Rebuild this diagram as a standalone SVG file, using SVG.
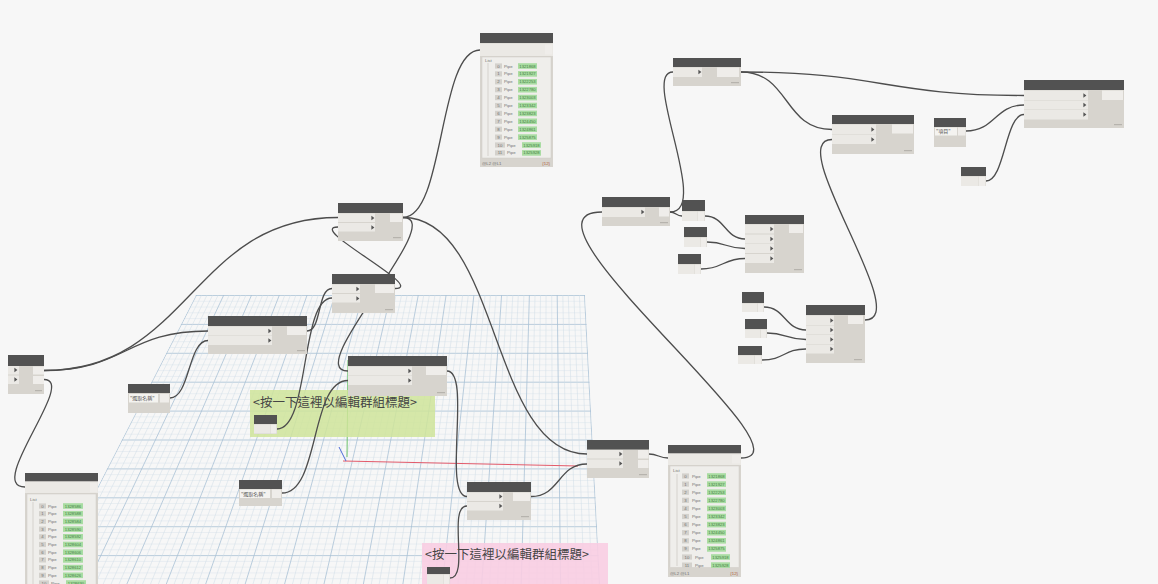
<svg xmlns="http://www.w3.org/2000/svg" width="1158" height="584" viewBox="0 0 1158 584">
<defs>
<style>
.hd{fill:#525252}
.bd{fill:#d7d4ce}
.ir{fill:#ebe9e5}
.ob{fill:#efedea}
.fd{fill:#f4f3f0}
.mk{fill:#b6b3ad}
.cn path{fill:none;stroke:#4d4d4d;stroke-width:1.3}
.t{font-family:"Liberation Sans",Arial,sans-serif;font-size:4.3px;fill:#707070}
.tv{font-family:"Liberation Sans",Arial,sans-serif;font-size:4.2px;fill:#3f7f3f;text-anchor:middle}
.lst{fill:#efeeeb;stroke:#cfccc6;stroke-width:0.5}
.gv{fill:#a9dca2}
.ix{fill:#d3d1cc}
.tl{stroke:#b8b5af;stroke-width:0.5}
.cj{font-family:"Noto Sans CJK TC","Noto Sans CJK SC",sans-serif}
.glab{font-size:12.5px;fill:#454545}
.sv{font-size:5px;fill:#555}
.ft{fill:#b05a3c;text-anchor:end}
</style>
<path id="ch" d="M-1.6,-2.3L1.4,0L-1.6,2.3Z" fill="#555"/>
<pattern id="hmin" patternUnits="userSpaceOnUse" x="0" y="295" width="20" height="5.78"><line x1="0" y1="0.25" x2="20" y2="0.25" stroke="#cfdce7" stroke-width="0.5"/></pattern>
<pattern id="hmaj" patternUnits="userSpaceOnUse" x="0" y="295" width="20" height="28.9"><line x1="0" y1="0.4" x2="20" y2="0.4" stroke="#a9c1d5" stroke-width="0.8"/></pattern>
<clipPath id="gc"><polygon points="196,295 585,295 600,584 48,584"/></clipPath>
</defs>
<rect width="1158" height="584" fill="#f7f7f7"/>
<g id="grid" clip-path="url(#gc)">
<rect x="40" y="290" width="570" height="300" fill="url(#hmin)"/>
<rect x="40" y="290" width="570" height="300" fill="url(#hmaj)"/>
<path fill="none" stroke="#cfdce7" stroke-width="0.5" d="M201.6,295L55.9,584M207.1,295L63.8,584M212.7,295L71.7,584M218.2,295L79.5,584M229.3,295L95.3,584M234.9,295L103.2,584M240.5,295L111.1,584M246,295L119,584M257.1,295L134.7,584M262.7,295L142.6,584M268.2,295L150.5,584M273.8,295L158.4,584M284.9,295L174.2,584M290.5,295L182.1,584M296,295L190,584M301.6,295L197.8,584M312.7,295L213.6,584M318.3,295L221.5,584M323.8,295L229.4,584M329.4,295L237.3,584M340.5,295L253,584M346,295L260.9,584M351.6,295L268.8,584M357.2,295L276.7,584M368.3,295L292.5,584M373.8,295L300.4,584M379.4,295L308.2,584M384.9,295L316.1,584M396.1,295L331.9,584M401.6,295L339.8,584M407.2,295L347.7,584M412.7,295L355.6,584M423.8,295L371.3,584M429.4,295L379.2,584M435,295L387.1,584M440.5,295L395,584M451.6,295L410.8,584M457.2,295L418.6,584M462.7,295L426.5,584M468.3,295L434.4,584M479.4,295L450.2,584M485,295L458.1,584M490.5,295L466,584M496.1,295L473.8,584M507.2,295L489.6,584M512.8,295L497.5,584M518.3,295L505.4,584M523.9,295L513.3,584M535,295L529,584M540.5,295L536.9,584M546.1,295L544.8,584M551.7,295L552.7,584M562.8,295L568.5,584M568.3,295L576.4,584M573.9,295L584.2,584M579.4,295L592.1,584"/>
<path fill="none" stroke="#a9c1d5" stroke-width="0.8" d="M196.5,295L48.5,584M223.8,295L87.4,584M251.6,295L126.9,584M279.4,295L166.3,584M307.1,295L205.7,584M334.9,295L245.2,584M362.7,295L284.6,584M390.5,295L324,584M418.3,295L363.4,584M446.1,295L402.9,584M473.9,295L442.3,584M501.6,295L481.7,584M529.4,295L521.2,584M557.2,295L560.6,584M584.5,295L599.5,584"/>
</g>
<g id="axes">
<line x1="343" y1="461" x2="578" y2="466" stroke="#e25a6a" stroke-width="1"/>
<line x1="347" y1="457" x2="348" y2="360" stroke="#6cc26c" stroke-width="1"/>
<line x1="339" y1="447" x2="346" y2="461" stroke="#4a6ad8" stroke-width="1"/>
</g>
<g id="group-green">
<rect x="250" y="390" width="185" height="47" fill="#cfe49a" fill-opacity="0.85"/>
<text class="cj glab" x="253" y="407">&lt;按一下這裡以編輯群組標題&gt;</text>
</g>
<g id="group-pink">
<rect x="422" y="543" width="186" height="41" fill="#f8cde2" fill-opacity="0.9"/>
<text class="cj glab" x="425" y="559">&lt;按一下這裡以編輯群組標題&gt;</text>
</g>
<g id="connectors" class="cn">
<path d="M44,370.5 C126,370.5 126,331 208,331"/>
<path d="M44,370.5 C190,370.5 192,217.5 338,217.5"/>
<path d="M44,379.5 C78,379.5 -15,487 25,487"/>
<path d="M170,398 C190,398 188,340.5 208,340.5"/>
<path d="M307,331 C322,331 317,288.5 332,288.5"/>
<path d="M277,429 C310,429 300,298 332,298"/>
<path d="M395,288.5 C428,288.5 305,227 338,227"/>
<path d="M403,217.5 C450,217.5 300,371 348,371"/>
<path d="M282,493 C320,493 310,380.5 348,380.5"/>
<path d="M403,217.5 C445,217.5 438,50 480,50"/>
<path d="M403,217.5 C500,217.5 490,454 587,454"/>
<path d="M447,371 C472,371 442,496.5 467,496.5"/>
<path d="M450,578 C470,578 447,506 467,506"/>
<path d="M531,496.5 C560,496.5 558,464 587,464"/>
<path d="M649,454 C658,454 659,458 668,458"/>
<path d="M741,458 C820,458 500,212 602,212"/>
<path d="M670,212 C676,212 676,216 682,216"/>
<path d="M670,212 C712,212 640,72 673,72"/>
<path d="M705,216 C725,216 725,239 745,239"/>
<path d="M707,242 C726,242 726,248.5 745,248.5"/>
<path d="M701,269 C723,269 723,258.5 745,258.5"/>
<path d="M741,72 C790,72 783,129.5 832,129.5"/>
<path d="M741,72 C880,72 885,95.5 1024,95.5"/>
<path d="M865,320 C915,320 782,139.5 832,139.5"/>
<path d="M966,131 C995,131 995,105 1024,105"/>
<path d="M986,181 C1005,181 1005,114.5 1024,114.5"/>
<path d="M764,307 C785,307 785,330 806,330"/>
<path d="M767,333 C786,333 786,339.5 806,339.5"/>
<path d="M762,360 C784,360 784,349 806,349"/>
</g>
<g id="node-a">
<rect class="bd" x="8" y="355" width="36" height="39"/>
<rect class="hd" x="8" y="355" width="36" height="11"/>
<rect class="ir" x="8" y="366" width="11" height="8.5"/>
<rect class="ir" x="8" y="375.5" width="11" height="8.5"/>
<use href="#ch" x="16" y="370"/><use href="#ch" x="16" y="379.5"/>
<rect class="ob" x="33" y="366.5" width="11" height="8"/>
<rect class="ob" x="33" y="376" width="11" height="8"/>
<rect class="mk" x="35" y="390" width="7" height="1.2"/>
</g>
<g id="node-b">
<rect class="bd" x="208" y="316" width="99" height="38"/>
<rect class="hd" x="208" y="316" width="99" height="10"/>
<rect class="ir" x="208" y="326.5" width="64" height="9"/>
<rect class="ir" x="208" y="336" width="64" height="9"/>
<use href="#ch" x="270" y="331"/><use href="#ch" x="270" y="340.5"/>
<rect class="ob" x="287" y="326.5" width="19" height="8.5"/>
<rect class="mk" x="297" y="350" width="8" height="1.2"/>
</g>
<g id="node-c">
<rect class="bd" x="128" y="384" width="42" height="29"/>
<rect class="hd" x="128" y="384" width="42" height="9"/>
<rect class="fd" x="129" y="394" width="29" height="8.5"/>
<text class="cj sv" x="130" y="400.3">"選取名稱"</text>
<rect class="ob" x="160" y="394" width="9" height="8.5"/>
</g>
<g id="node-d">
<rect class="bd" x="338" y="203" width="65" height="38"/>
<rect class="hd" x="338" y="203" width="65" height="10"/>
<rect class="ir" x="338" y="213.5" width="37" height="8.5"/>
<rect class="ir" x="338" y="223" width="37" height="8.5"/>
<use href="#ch" x="373" y="218"/><use href="#ch" x="373" y="227.5"/>
<rect class="ob" x="390" y="213.5" width="12" height="8.5"/>
<rect class="mk" x="393" y="237" width="8" height="1.2"/>
</g>
<g id="node-e">
<rect class="bd" x="332" y="274" width="63" height="39"/>
<rect class="hd" x="332" y="274" width="63" height="10"/>
<rect class="ir" x="332" y="284.5" width="28" height="8.5"/>
<rect class="ir" x="332" y="294" width="28" height="8.5"/>
<use href="#ch" x="358" y="289"/><use href="#ch" x="358" y="298.5"/>
<rect class="ob" x="375" y="284.5" width="19" height="8.5"/>
<rect class="mk" x="385" y="309" width="8" height="1.2"/>
</g>
<g id="node-f">
<rect class="bd" x="348" y="356" width="99" height="40"/>
<rect class="hd" x="348" y="356" width="99" height="10"/>
<rect class="ir" x="348" y="366.5" width="64" height="9"/>
<rect class="ir" x="348" y="376" width="64" height="9"/>
<use href="#ch" x="410" y="371"/><use href="#ch" x="410" y="380.5"/>
<rect class="ob" x="426" y="366.5" width="20" height="8.5"/>
<rect class="mk" x="437" y="392" width="8" height="1.2"/>
</g>
<g id="node-g">
<rect class="bd" x="254" y="415" width="23" height="19"/>
<rect class="hd" x="254" y="415" width="23" height="9"/>
<rect class="ir" x="254" y="424.5" width="16" height="9"/>
<rect class="ob" x="270.5" y="424.5" width="6" height="9"/>
</g>
<g id="node-h">
<rect class="bd" x="239" y="480" width="43" height="26"/>
<rect class="hd" x="239" y="480" width="43" height="9"/>
<rect class="fd" x="240" y="489.5" width="30" height="8.5"/>
<text class="cj sv" x="241" y="495.8">"選取名稱"</text>
<rect class="ob" x="272" y="489.5" width="9" height="8.5"/>
</g>
<g id="node-i">
<rect class="bd" x="467" y="482" width="64" height="38"/>
<rect class="hd" x="467" y="482" width="64" height="10"/>
<rect class="ir" x="467" y="492.5" width="36" height="8.5"/>
<rect class="ir" x="467" y="502" width="36" height="8.5"/>
<use href="#ch" x="501" y="496.5"/><use href="#ch" x="501" y="506"/>
<rect class="ob" x="513" y="492.5" width="17" height="8.5"/>
<rect class="mk" x="521" y="516" width="8" height="1.2"/>
</g>
<g id="node-j">
<rect class="bd" x="427" y="567" width="23" height="17"/>
<rect class="hd" x="427" y="567" width="23" height="7"/>
<rect class="ir" x="427" y="574.5" width="16" height="9.5"/>
<rect class="ob" x="443.5" y="574.5" width="6" height="9.5"/>
</g>
<g id="node-k">
<rect class="bd" x="587" y="440" width="62" height="38"/>
<rect class="hd" x="587" y="440" width="62" height="9.5"/>
<rect class="ir" x="587" y="450" width="36" height="8.5"/>
<rect class="ir" x="587" y="459.5" width="36" height="8.5"/>
<use href="#ch" x="621" y="454"/><use href="#ch" x="621" y="463.5"/>
<rect class="ob" x="638" y="450" width="10.5" height="8.5"/>
<rect class="ob" x="638" y="460" width="10.5" height="8"/>
<rect class="mk" x="639" y="474" width="8" height="1.2"/>
</g>
<g id="node-l">
<rect class="bd" x="602" y="197" width="68" height="29"/>
<rect class="hd" x="602" y="197" width="68" height="10"/>
<rect class="ir" x="602" y="207.5" width="43" height="9.5"/>
<use href="#ch" x="643" y="212"/>
<rect class="ob" x="659" y="207.5" width="10" height="9"/>
<rect class="mk" x="660" y="222" width="8" height="1.2"/>
</g>
<g id="node-m">
<rect class="bd" x="682" y="200" width="23" height="21"/>
<rect class="hd" x="682" y="200" width="23" height="11"/>
<rect class="ir" x="682" y="211.5" width="15" height="9.5"/>
<rect class="ob" x="697.5" y="211.5" width="7" height="9.5"/>
</g>
<g id="node-n">
<rect class="bd" x="684" y="227" width="23" height="20"/>
<rect class="hd" x="684" y="227" width="23" height="10"/>
<rect class="ir" x="684" y="237.5" width="16" height="9.5"/>
<rect class="ob" x="700.5" y="237.5" width="6" height="9.5"/>
</g>
<g id="node-o">
<rect class="bd" x="678" y="254" width="23" height="20"/>
<rect class="hd" x="678" y="254" width="23" height="10"/>
<rect class="ir" x="678" y="264.5" width="16" height="9.5"/>
<rect class="ob" x="694.5" y="264.5" width="6" height="9.5"/>
</g>
<g id="node-p">
<rect class="bd" x="745" y="215" width="59" height="58"/>
<rect class="hd" x="745" y="215" width="59" height="9"/>
<rect class="ir" x="745" y="224.5" width="29" height="9"/>
<rect class="ir" x="745" y="234.5" width="29" height="9"/>
<rect class="ir" x="745" y="244" width="29" height="9"/>
<rect class="ir" x="745" y="254" width="29" height="9"/>
<use href="#ch" x="772" y="229"/><use href="#ch" x="772" y="239"/><use href="#ch" x="772" y="248.5"/><use href="#ch" x="772" y="258.5"/>
<rect class="ob" x="789" y="224.5" width="14" height="8.5"/>
<rect class="mk" x="794" y="269" width="8" height="1.2"/>
</g>
<g id="node-q">
<rect class="bd" x="673" y="58" width="68" height="28"/>
<rect class="hd" x="673" y="58" width="68" height="9"/>
<rect class="ir" x="673" y="67.5" width="29" height="9.5"/>
<use href="#ch" x="700" y="72"/>
<rect class="ob" x="717" y="67.5" width="22" height="9.5"/>
<rect class="mk" x="731" y="82" width="8" height="1.2"/>
</g>
<g id="node-r">
<rect class="bd" x="832" y="115" width="82" height="39"/>
<rect class="hd" x="832" y="115" width="82" height="9"/>
<rect class="ir" x="832" y="124.5" width="44" height="9.5"/>
<rect class="ir" x="832" y="134.5" width="44" height="9.5"/>
<use href="#ch" x="873" y="129.5"/><use href="#ch" x="873" y="139.5"/>
<rect class="ob" x="892" y="124.5" width="21" height="9"/>
<rect class="mk" x="904" y="150" width="8" height="1.2"/>
</g>
<g id="node-s">
<rect class="bd" x="1024" y="80" width="100" height="48"/>
<rect class="hd" x="1024" y="80" width="100" height="10"/>
<rect class="ir" x="1024" y="90.5" width="64" height="9.5"/>
<rect class="ir" x="1024" y="100.5" width="64" height="9"/>
<rect class="ir" x="1024" y="110" width="64" height="9.5"/>
<use href="#ch" x="1085" y="95.5"/><use href="#ch" x="1085" y="105"/><use href="#ch" x="1085" y="114.5"/>
<rect class="ob" x="1102" y="90.5" width="21" height="9.5"/>
<rect class="mk" x="1114" y="124" width="8" height="1.2"/>
</g>
<g id="node-t">
<rect class="bd" x="934" y="118" width="32" height="29"/>
<rect class="hd" x="934" y="118" width="32" height="9"/>
<rect class="fd" x="935" y="127.5" width="22" height="8"/>
<text class="cj sv" x="936" y="133.3">"項目"</text>
<rect class="ob" x="958" y="127.5" width="7.5" height="8"/>
</g>
<g id="node-u">
<rect class="bd" x="961" y="167" width="25" height="19"/>
<rect class="hd" x="961" y="167" width="25" height="9"/>
<rect class="ir" x="961" y="176.5" width="17" height="9.5"/>
<rect class="ob" x="978.5" y="176.5" width="7" height="9.5"/>
</g>
<g id="node-v">
<rect class="bd" x="806" y="305" width="59" height="58"/>
<rect class="hd" x="806" y="305" width="59" height="10"/>
<rect class="ir" x="806" y="315.5" width="28" height="9.5"/>
<rect class="ir" x="806" y="325.5" width="28" height="9"/>
<rect class="ir" x="806" y="335" width="28" height="9"/>
<rect class="ir" x="806" y="344.5" width="28" height="9"/>
<use href="#ch" x="832" y="320.5"/><use href="#ch" x="832" y="330"/><use href="#ch" x="832" y="339.5"/><use href="#ch" x="832" y="349"/>
<rect class="ob" x="848" y="315.5" width="15" height="8.5"/>
<rect class="mk" x="854" y="359" width="8" height="1.2"/>
</g>
<g id="node-w">
<rect class="bd" x="742" y="292" width="22" height="20"/>
<rect class="hd" x="742" y="292" width="22" height="11"/>
<rect class="ir" x="742" y="303.5" width="15.5" height="8.5"/>
<rect class="ob" x="758" y="303.5" width="5.5" height="8.5"/>
</g>
<g id="node-x">
<rect class="bd" x="745" y="319" width="22" height="19"/>
<rect class="hd" x="745" y="319" width="22" height="10"/>
<rect class="ir" x="745" y="329.5" width="15.5" height="8.5"/>
<rect class="ob" x="761" y="329.5" width="5.5" height="8.5"/>
</g>
<g id="node-y">
<rect class="bd" x="738" y="346" width="24" height="18"/>
<rect class="hd" x="738" y="346" width="24" height="9"/>
<rect class="ir" x="738" y="355.5" width="16.5" height="8.5"/>
<rect class="ob" x="755" y="355.5" width="6.5" height="8.5"/>
</g>
<g id="watch-top">
<rect class="bd" x="480" y="33" width="73" height="134"/>
<rect class="hd" x="480" y="33" width="73" height="10"/>
<rect class="ir" x="480" y="43.5" width="73" height="12.5"/>
<rect class="ob" x="545" y="44.5" width="7" height="10"/>
<rect class="lst" x="482" y="57" width="69" height="101"/>
<text class="t" x="485" y="61.5">List</text>
<line class="tl" x1="488" y1="63" x2="488" y2="156"/>
<rect class="ix" x="495" y="63.4" width="7" height="5.2"/><text class="t" x="498.5" y="67.5" text-anchor="middle">0</text><text class="t" x="504" y="67.5">Pipe</text><rect class="gv" x="518" y="63.2" width="19" height="5.6"/><text class="tv" x="527.5" y="67.5">1321868</text>
<rect class="ix" x="495" y="71.3" width="7" height="5.2"/><text class="t" x="498.5" y="75.4" text-anchor="middle">1</text><text class="t" x="504" y="75.4">Pipe</text><rect class="gv" x="518" y="71.1" width="19" height="5.6"/><text class="tv" x="527.5" y="75.4">1321927</text>
<rect class="ix" x="495" y="79.2" width="7" height="5.2"/><text class="t" x="498.5" y="83.3" text-anchor="middle">2</text><text class="t" x="504" y="83.3">Pipe</text><rect class="gv" x="518" y="79" width="19" height="5.6"/><text class="tv" x="527.5" y="83.3">1322253</text>
<rect class="ix" x="495" y="87.1" width="7" height="5.2"/><text class="t" x="498.5" y="91.2" text-anchor="middle">3</text><text class="t" x="504" y="91.2">Pipe</text><rect class="gv" x="518" y="86.9" width="19" height="5.6"/><text class="tv" x="527.5" y="91.2">1322780</text>
<rect class="ix" x="495" y="95" width="7" height="5.2"/><text class="t" x="498.5" y="99.1" text-anchor="middle">4</text><text class="t" x="504" y="99.1">Pipe</text><rect class="gv" x="518" y="94.8" width="19" height="5.6"/><text class="tv" x="527.5" y="99.1">1323003</text>
<rect class="ix" x="495" y="102.9" width="7" height="5.2"/><text class="t" x="498.5" y="107" text-anchor="middle">5</text><text class="t" x="504" y="107">Pipe</text><rect class="gv" x="518" y="102.7" width="19" height="5.6"/><text class="tv" x="527.5" y="107">1323342</text>
<rect class="ix" x="495" y="110.8" width="7" height="5.2"/><text class="t" x="498.5" y="114.9" text-anchor="middle">6</text><text class="t" x="504" y="114.9">Pipe</text><rect class="gv" x="518" y="110.6" width="19" height="5.6"/><text class="tv" x="527.5" y="114.9">1323823</text>
<rect class="ix" x="495" y="118.7" width="7" height="5.2"/><text class="t" x="498.5" y="122.8" text-anchor="middle">7</text><text class="t" x="504" y="122.8">Pipe</text><rect class="gv" x="518" y="118.5" width="19" height="5.6"/><text class="tv" x="527.5" y="122.8">1324450</text>
<rect class="ix" x="495" y="126.6" width="7" height="5.2"/><text class="t" x="498.5" y="130.7" text-anchor="middle">8</text><text class="t" x="504" y="130.7">Pipe</text><rect class="gv" x="518" y="126.4" width="19" height="5.6"/><text class="tv" x="527.5" y="130.7">1324861</text>
<rect class="ix" x="495" y="134.5" width="7" height="5.2"/><text class="t" x="498.5" y="138.6" text-anchor="middle">9</text><text class="t" x="504" y="138.6">Pipe</text><rect class="gv" x="518" y="134.3" width="19" height="5.6"/><text class="tv" x="527.5" y="138.6">1325875</text>
<rect class="ix" x="495" y="142.4" width="10" height="5.2"/><text class="t" x="500" y="146.5" text-anchor="middle">10</text><text class="t" x="507" y="146.5">Pipe</text><rect class="gv" x="522" y="142.2" width="19" height="5.6"/><text class="tv" x="531.5" y="146.5">1325918</text>
<rect class="ix" x="495" y="150.3" width="10" height="5.2"/><text class="t" x="500" y="154.4" text-anchor="middle">11</text><text class="t" x="507" y="154.4">Pipe</text><rect class="gv" x="522" y="150.1" width="19" height="5.6"/><text class="tv" x="531.5" y="154.4">1325928</text>
<text class="t" x="482" y="164.5">@L2 @L1</text>
<text class="t ft" x="550" y="164.5">{12}</text>
</g>
<g id="watch-bottom">
<rect class="bd" x="668" y="445" width="73" height="132"/>
<rect class="hd" x="668" y="445" width="73" height="8.5"/>
<rect class="ir" x="668" y="453.5" width="73" height="11.5"/>
<rect class="ob" x="732" y="455" width="8" height="8.5"/>
<rect class="lst" x="670" y="466" width="69" height="101.5"/>
<text class="t" x="673" y="472">List</text>
<line class="tl" x1="677" y1="474" x2="677" y2="566"/>
<rect class="ix" x="682" y="473.4" width="7" height="5.2"/><text class="t" x="685.5" y="477.5" text-anchor="middle">0</text><text class="t" x="692" y="477.5">Pipe</text><rect class="gv" x="707" y="473.2" width="19" height="5.6"/><text class="tv" x="716.5" y="477.5">1321868</text>
<rect class="ix" x="682" y="481.5" width="7" height="5.2"/><text class="t" x="685.5" y="485.6" text-anchor="middle">1</text><text class="t" x="692" y="485.6">Pipe</text><rect class="gv" x="707" y="481.3" width="19" height="5.6"/><text class="tv" x="716.5" y="485.6">1321927</text>
<rect class="ix" x="682" y="489.6" width="7" height="5.2"/><text class="t" x="685.5" y="493.7" text-anchor="middle">2</text><text class="t" x="692" y="493.7">Pipe</text><rect class="gv" x="707" y="489.4" width="19" height="5.6"/><text class="tv" x="716.5" y="493.7">1322253</text>
<rect class="ix" x="682" y="497.7" width="7" height="5.2"/><text class="t" x="685.5" y="501.8" text-anchor="middle">3</text><text class="t" x="692" y="501.8">Pipe</text><rect class="gv" x="707" y="497.5" width="19" height="5.6"/><text class="tv" x="716.5" y="501.8">1322780</text>
<rect class="ix" x="682" y="505.8" width="7" height="5.2"/><text class="t" x="685.5" y="509.9" text-anchor="middle">4</text><text class="t" x="692" y="509.9">Pipe</text><rect class="gv" x="707" y="505.6" width="19" height="5.6"/><text class="tv" x="716.5" y="509.9">1323003</text>
<rect class="ix" x="682" y="513.9" width="7" height="5.2"/><text class="t" x="685.5" y="518" text-anchor="middle">5</text><text class="t" x="692" y="518">Pipe</text><rect class="gv" x="707" y="513.7" width="19" height="5.6"/><text class="tv" x="716.5" y="518">1323342</text>
<rect class="ix" x="682" y="522" width="7" height="5.2"/><text class="t" x="685.5" y="526.1" text-anchor="middle">6</text><text class="t" x="692" y="526.1">Pipe</text><rect class="gv" x="707" y="521.8" width="19" height="5.6"/><text class="tv" x="716.5" y="526.1">1323823</text>
<rect class="ix" x="682" y="530.1" width="7" height="5.2"/><text class="t" x="685.5" y="534.2" text-anchor="middle">7</text><text class="t" x="692" y="534.2">Pipe</text><rect class="gv" x="707" y="529.9" width="19" height="5.6"/><text class="tv" x="716.5" y="534.2">1324450</text>
<rect class="ix" x="682" y="538.2" width="7" height="5.2"/><text class="t" x="685.5" y="542.3" text-anchor="middle">8</text><text class="t" x="692" y="542.3">Pipe</text><rect class="gv" x="707" y="538" width="19" height="5.6"/><text class="tv" x="716.5" y="542.3">1324861</text>
<rect class="ix" x="682" y="546.3" width="7" height="5.2"/><text class="t" x="685.5" y="550.4" text-anchor="middle">9</text><text class="t" x="692" y="550.4">Pipe</text><rect class="gv" x="707" y="546.1" width="19" height="5.6"/><text class="tv" x="716.5" y="550.4">1325875</text>
<rect class="ix" x="682" y="554.4" width="10" height="5.2"/><text class="t" x="687" y="558.5" text-anchor="middle">10</text><text class="t" x="695" y="558.5">Pipe</text><rect class="gv" x="711" y="554.2" width="19" height="5.6"/><text class="tv" x="720.5" y="558.5">1325918</text>
<rect class="ix" x="682" y="562.5" width="10" height="5.2"/><text class="t" x="687" y="566.6" text-anchor="middle">11</text><text class="t" x="695" y="566.6">Pipe</text><rect class="gv" x="711" y="562.3" width="19" height="5.6"/><text class="tv" x="720.5" y="566.6">1325928</text>
<text class="t" x="670" y="574.5">@L2 @L1</text>
<text class="t ft" x="738" y="574.5">{12}</text>
</g>
<g id="watch-left">
<rect class="bd" x="25" y="473" width="73" height="111"/>
<rect class="hd" x="25" y="473" width="73" height="8.5"/>
<rect class="ir" x="25" y="481.5" width="73" height="11.5"/>
<rect class="ob" x="90" y="483" width="7" height="9"/>
<rect class="lst" x="27" y="494" width="69" height="92"/>
<text class="t" x="30" y="500.5">List</text>
<line class="tl" x1="33" y1="502" x2="33" y2="584"/>
<rect class="ix" x="39" y="503.4" width="7" height="5.2"/><text class="t" x="42.5" y="507.5" text-anchor="middle">0</text><text class="t" x="48" y="507.5">Pipe</text><rect class="gv" x="63" y="503.2" width="20" height="5.6"/><text class="tv" x="73" y="507.5">1328586</text>
<rect class="ix" x="39" y="511.1" width="7" height="5.2"/><text class="t" x="42.5" y="515.2" text-anchor="middle">1</text><text class="t" x="48" y="515.2">Pipe</text><rect class="gv" x="63" y="510.9" width="20" height="5.6"/><text class="tv" x="73" y="515.2">1328588</text>
<rect class="ix" x="39" y="518.8" width="7" height="5.2"/><text class="t" x="42.5" y="522.9" text-anchor="middle">2</text><text class="t" x="48" y="522.9">Pipe</text><rect class="gv" x="63" y="518.6" width="20" height="5.6"/><text class="tv" x="73" y="522.9">1328584</text>
<rect class="ix" x="39" y="526.5" width="7" height="5.2"/><text class="t" x="42.5" y="530.6" text-anchor="middle">3</text><text class="t" x="48" y="530.6">Pipe</text><rect class="gv" x="63" y="526.3" width="20" height="5.6"/><text class="tv" x="73" y="530.6">1328590</text>
<rect class="ix" x="39" y="534.2" width="7" height="5.2"/><text class="t" x="42.5" y="538.3" text-anchor="middle">4</text><text class="t" x="48" y="538.3">Pipe</text><rect class="gv" x="63" y="534" width="20" height="5.6"/><text class="tv" x="73" y="538.3">1328592</text>
<rect class="ix" x="39" y="541.9" width="7" height="5.2"/><text class="t" x="42.5" y="546" text-anchor="middle">5</text><text class="t" x="48" y="546">Pipe</text><rect class="gv" x="63" y="541.7" width="20" height="5.6"/><text class="tv" x="73" y="546">1328604</text>
<rect class="ix" x="39" y="549.6" width="7" height="5.2"/><text class="t" x="42.5" y="553.7" text-anchor="middle">6</text><text class="t" x="48" y="553.7">Pipe</text><rect class="gv" x="63" y="549.4" width="20" height="5.6"/><text class="tv" x="73" y="553.7">1328606</text>
<rect class="ix" x="39" y="557.3" width="7" height="5.2"/><text class="t" x="42.5" y="561.4" text-anchor="middle">7</text><text class="t" x="48" y="561.4">Pipe</text><rect class="gv" x="63" y="557.1" width="20" height="5.6"/><text class="tv" x="73" y="561.4">1328610</text>
<rect class="ix" x="39" y="565" width="7" height="5.2"/><text class="t" x="42.5" y="569.1" text-anchor="middle">8</text><text class="t" x="48" y="569.1">Pipe</text><rect class="gv" x="63" y="564.8" width="20" height="5.6"/><text class="tv" x="73" y="569.1">1328612</text>
<rect class="ix" x="39" y="572.7" width="7" height="5.2"/><text class="t" x="42.5" y="576.8" text-anchor="middle">9</text><text class="t" x="48" y="576.8">Pipe</text><rect class="gv" x="63" y="572.5" width="20" height="5.6"/><text class="tv" x="73" y="576.8">1328626</text>
<rect class="ix" x="39" y="580.4" width="10" height="5.2"/><text class="t" x="44" y="584.5" text-anchor="middle">10</text><text class="t" x="51" y="584.5">Pipe</text><rect class="gv" x="66" y="580.2" width="20" height="5.6"/><text class="tv" x="76" y="584.5">1328630</text>
</g>
</svg>
